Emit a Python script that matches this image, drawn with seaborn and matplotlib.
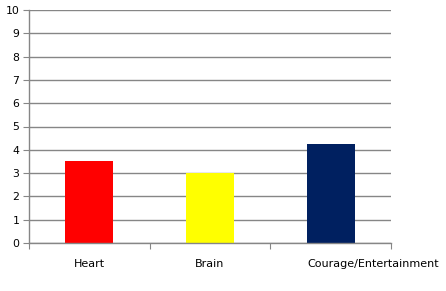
import matplotlib
matplotlib.use("Agg")
import matplotlib.pyplot as plt
import matplotlib.transforms as mtransforms
import seaborn as sns
import pandas as pd

categories = ["Heart", "Brain", "Courage/Entertainment"]
values = [3.5, 3.0, 4.25]
colors = ["#FF0000", "#FFFF00", "#002060"]
yticks = list(range(0, 11))

sns.set_style("white")
plt.rcParams['font.family'] = ['DejaVu Sans']

fig = plt.figure(figsize=(4.46, 2.91), dpi=100)
ax = fig.add_axes([29/446, 1-243/291, (391-29)/446, (243-10)/291])

df = pd.DataFrame({"cat": categories, "val": values})
sns.barplot(data=df, x="cat", y="val", hue="cat", palette=colors, width=0.4,
            legend=False, ax=ax, saturation=1, linewidth=0, edgecolor="none")

ax.set_ylim(0, 10)
ax.set_xlim(-0.5, 2.5)
ax.set_yticks(yticks)
ax.set_yticklabels([str(t) for t in yticks], fontsize=7.8, color="black")
ax.yaxis.grid(True, color="#868686", linewidth=1)
ax.set_axisbelow(True)

ax.set_xticks([-0.5, 0.5, 1.5, 2.5])
ax.set_xticklabels([])
ax.tick_params(axis="x", which="major", length=4, color="#868686", direction="out",
               bottom=True)
ax.tick_params(axis="y", length=4, color="#868686", direction="out", pad=3, left=True)

# category labels (the last one is shifted right as in the reference)
shifts = [0, 0, 43]
base = ax.get_xaxis_transform()
for i, (cat, sh) in enumerate(zip(categories, shifts)):
    tr = base + mtransforms.ScaledTranslation(sh / 100, -21 / 100, fig.dpi_scale_trans)
    ax.text(i, 0, cat, transform=tr, ha="center", va="center", fontsize=8, color="black")

for s in ["top", "right"]:
    ax.spines[s].set_visible(False)
for s in ["left", "bottom"]:
    ax.spines[s].set_color("#868686")
    ax.spines[s].set_linewidth(1)

ax.set_xlabel("")
ax.set_ylabel("")
fig.savefig("out.png", dpi=100)
